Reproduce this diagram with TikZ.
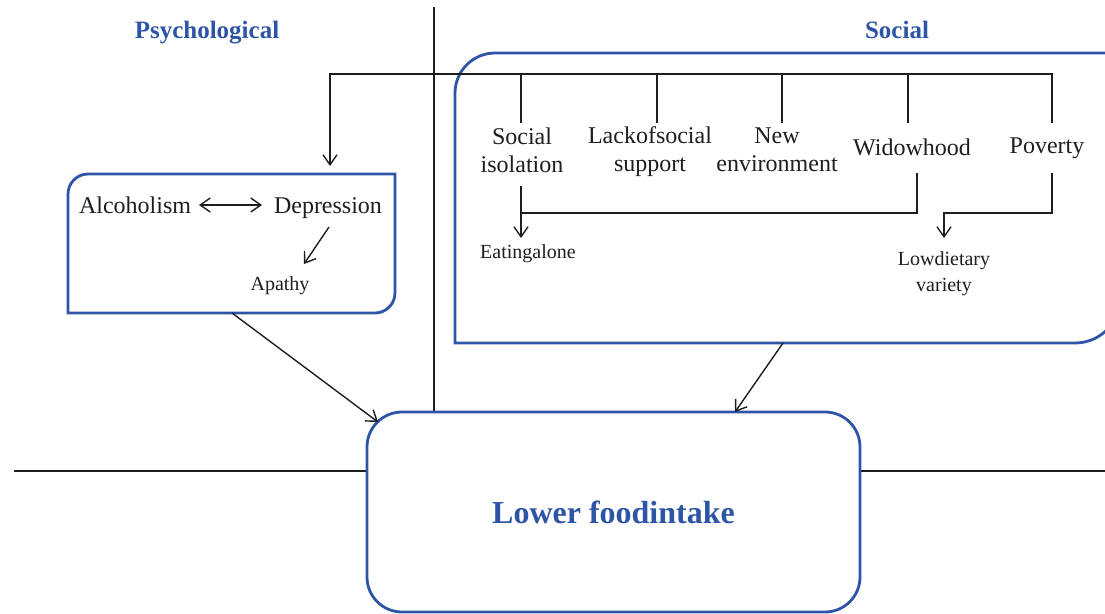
\documentclass[tikz,border=0pt]{standalone}
\usepackage{fontspec}
\setmainfont{Liberation Serif}
\usetikzlibrary{arrows.meta}
\definecolor{fblue}{RGB}{46,84,166}
\definecolor{ink}{RGB}{30,30,30}
\begin{document}
\begin{tikzpicture}[x=1pt,y=-1pt,
  txt/.style={font=\fontsize{24}{28}\selectfont, text=ink, align=center, inner sep=0pt},
  small/.style={font=\fontsize{20}{26}\selectfont, text=ink, align=center, inner sep=0pt},
  head/.style={font=\fontsize{25}{30}\selectfont\bfseries, text=fblue, inner sep=0pt},
  frame/.style={draw=fblue, line width=2.8pt, fill=white},
  conn/.style={draw=ink, line width=1.4pt},
  tip/.tip={Straight Barb[length=10pt,width=14pt,line width=1.4pt]},
  arr/.style={conn, -tip},
  darr/.style={conn, tip-tip},
  ]
\useasboundingbox (0,0) rectangle (1105,613);
\clip (0,0) rectangle (1105,613);
% axes
\draw[ink, line width=2pt] (14,471) -- (1105,471);
\draw[ink, line width=1.3pt] (434,7) -- (434,411);
% headings
\node[head, anchor=base] (hpsy) at (207,38) {Psychological};
\node[head, anchor=base] (hsoc) at (897,38) {Social};
% psychological box
\draw[frame] (68,313) -- (68,194) .. controls (68,183) and (77,174) .. (88,174)
  -- (395,174) -- (395,293) .. controls (395,304) and (386,313) .. (375,313) -- cycle;
\coordinate (psyout) at (232,313);
% social box
\draw[frame] (455,343) -- (455,93) .. controls (455,71) and (473,53) .. (495,53)
  -- (1120,53) -- (1120,298) .. controls (1120,323) and (1100,343) .. (1075,343) -- cycle;
\coordinate (socout) at (783,343);
% bottom box
\node[frame, rounded corners=35pt, minimum width=493pt, minimum height=200pt,
  font=\fontsize{32}{36}\selectfont\bfseries, text=fblue] (food) at (613.5,512) {Lower foodintake};
\coordinate (foodin1) at (378,422);
\coordinate (foodin2) at (735,412);
% psychological contents
\node[txt, anchor=base] (alc) at (135,213) {Alcoholism};
\node[txt, anchor=base] (dep) at (328,213) {Depression};
\node[small, anchor=base] (apa) at (280,290) {Apathy};
\coordinate (a1) at (199,205);
\coordinate (a2) at (262,205);
\draw[darr] (a1) -- (a2);
\coordinate (d1) at (329,227);
\coordinate (d2) at (304,264);
\draw[arr] (d1) -- (d2);
% social contents
\node[txt] (soc) at (522,150) {Social\\isolation};
\node[txt] (lack) at (650,152) {Lackofsocial\\support};
\node[txt] (new) at (777,150) {New\\environment};
\node[txt] (wid) at (912,147) {Widowhood};
\node[txt] (pov) at (1047,148) {Poverty};
\node[small] (eat) at (528,254) {Eatingalone};
\node[small] (low) at (944,274) {Lowdietary\\variety};
% bus
\coordinate (bpov) at (1052,123);
\coordinate (bpsy) at (330,166);
\draw[arr] (bpov) |- (330,74) -- (bpsy);
\foreach \x in {521,657,782,908} \draw[conn] (\x,74) -- (\x,123);
% eating alone
\coordinate (wb) at (917,173);
\coordinate (sb) at (521,186);
\coordinate (ea) at (521,238);
\draw[conn] (wb) |- (521,213);
\draw[arr] (sb) -- (ea);
% low dietary variety
\coordinate (pb) at (1052,173);
\coordinate (lv) at (944,238);
\draw[arr] (pb) |- (944,213) -- (lv);
% to lower food intake
\draw[arr] (psyout) -- (foodin1);
\draw[arr] (socout) -- (foodin2);
\end{tikzpicture}
\end{document}
